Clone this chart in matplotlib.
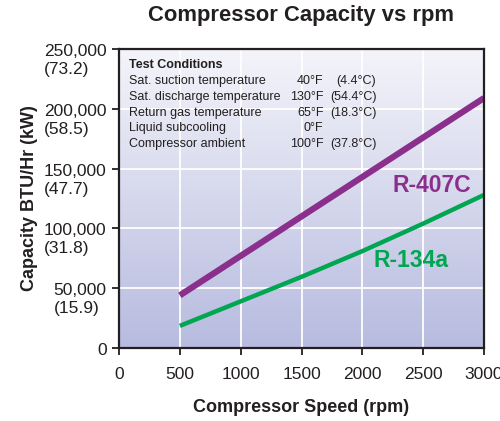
import numpy as np
import matplotlib
matplotlib.use("Agg")
import matplotlib.pyplot as plt
import matplotlib.transforms as mtransforms
from matplotlib.colors import LinearSegmentedColormap

plt.rcParams['font.family'] = ['Liberation Sans', 'DejaVu Sans']

rpm = [500, 1000, 1500, 2000, 2500, 3000]
r407c = [44000, 77000, 110000, 143000, 176000, 209000]
r134a = [18500, 39000, 59500, 81000, 104000, 128000]

yticks = [0, 50000, 100000, 150000, 200000, 250000]
ytick_labels = ["0", "50,000\n(15.9)", "100,000\n(31.8)", "150,000\n(47.7)",
                "200,000\n(58.5)", "250,000\n(73.2)"]
xticks = [0, 500, 1000, 1500, 2000, 2500, 3000]

cond_names = ["Sat. suction temperature", "Sat. discharge temperature",
              "Return gas temperature", "Liquid subcooling", "Compressor ambient"]
cond_f = ["40°F", "130°F", "65°F", "0°F", "100°F"]
cond_c = ["(4.4°C)", "(54.4°C)", "(18.3°C)", "", "(37.8°C)"]

PURPLE = "#8b2f8c"
GREEN = "#00a651"
DARK = "#231f20"

fig = plt.figure(figsize=(5.0, 4.21), dpi=100)
ax = fig.add_axes([0.238, 0.1734, 0.730, 0.7102])

# gradient background (light at top, lavender at bottom)
cmap = LinearSegmentedColormap.from_list("bg", ["#f4f4fa", "#b7bbdf"])
grad = np.linspace(1, 0, 256).reshape(-1, 1)
ax.imshow(grad, extent=[0, 3000, 0, 250000], aspect='auto', cmap=cmap,
          zorder=0, origin='lower', vmin=0, vmax=1)

ax.set_xlim(0, 3000)
ax.set_ylim(0, 250000)

ax.set_xticks(xticks)
ax.set_xticklabels([str(v) for v in xticks])
ax.set_yticks(yticks)
ax.set_yticklabels(ytick_labels, multialignment='left')
ax.grid(True, color='white', linewidth=1.3, zorder=1)
ax.set_axisbelow(False)

ax.tick_params(axis='both', direction='out', length=5, width=1.3, color=DARK,
               labelsize=12.5, labelcolor=DARK)
ax.tick_params(axis='x', pad=9)
ax.tick_params(axis='y', pad=4)
for lab in ax.get_yticklabels():
    lab.set_verticalalignment('top')
    lab.set_transform(lab.get_transform() +
                      mtransforms.ScaledTranslation(0, 3.6 / 72, fig.dpi_scale_trans))
    lab.set_linespacing(1.25)

for s in ax.spines.values():
    s.set_color(DARK)
    s.set_linewidth(1.6)
    s.set_zorder(5)

ax.plot(rpm, r407c, color=PURPLE, linewidth=4.5, solid_capstyle='butt', zorder=4)
ax.plot(rpm, r134a, color=GREEN, linewidth=3.2, solid_capstyle='butt', zorder=4)

ax.text(2572, 135800, "R-407C", color=PURPLE, fontsize=16.5, fontweight='bold',
        ha='center', va='center', zorder=6)
ax.text(2403, 73300, "R-134a", color=GREEN, fontsize=16.5, fontweight='bold',
        ha='center', va='center', zorder=6)

# test conditions panel: same gradient, mostly covering the grid lines
box_bottom = 160000
gbox = np.linspace(1 - box_bottom / 250000, 0, 128).reshape(-1, 1)
ax.imshow(gbox, extent=[0, 1990, box_bottom, 250000], aspect='auto', cmap=cmap,
          zorder=2, origin='lower', vmin=0, vmax=1, alpha=0.8)
ax.set_xlim(0, 3000)
ax.set_ylim(0, 250000)

ax.text(80, 237000, "Test Conditions", fontsize=9.0, fontweight='bold',
        color=DARK, va='center', ha='left', zorder=6)
y0 = 223500
dy = 13300
for i, (n, f, c) in enumerate(zip(cond_names, cond_f, cond_c)):
    y = y0 - i * dy
    ax.text(80, y, n, fontsize=9.0, color=DARK, va='center', ha='left', zorder=6)
    ax.text(1680, y, f, fontsize=9.0, color=DARK, va='center', ha='right', zorder=6)
    if c:
        ax.text(2115, y, c, fontsize=9.0, color=DARK, va='center', ha='right', zorder=6)

ax.set_xlabel("Compressor Speed (rpm)", fontsize=13, fontweight='bold',
              color=DARK, labelpad=12)
ax.set_ylabel("Capacity BTU/Hr (kW)", fontsize=13, fontweight='bold',
              color=DARK, labelpad=4)
ax.set_title("Compressor Capacity vs rpm", fontsize=15.8, fontweight='bold',
             color=DARK, pad=20)

fig.savefig("out.png", dpi=100)
